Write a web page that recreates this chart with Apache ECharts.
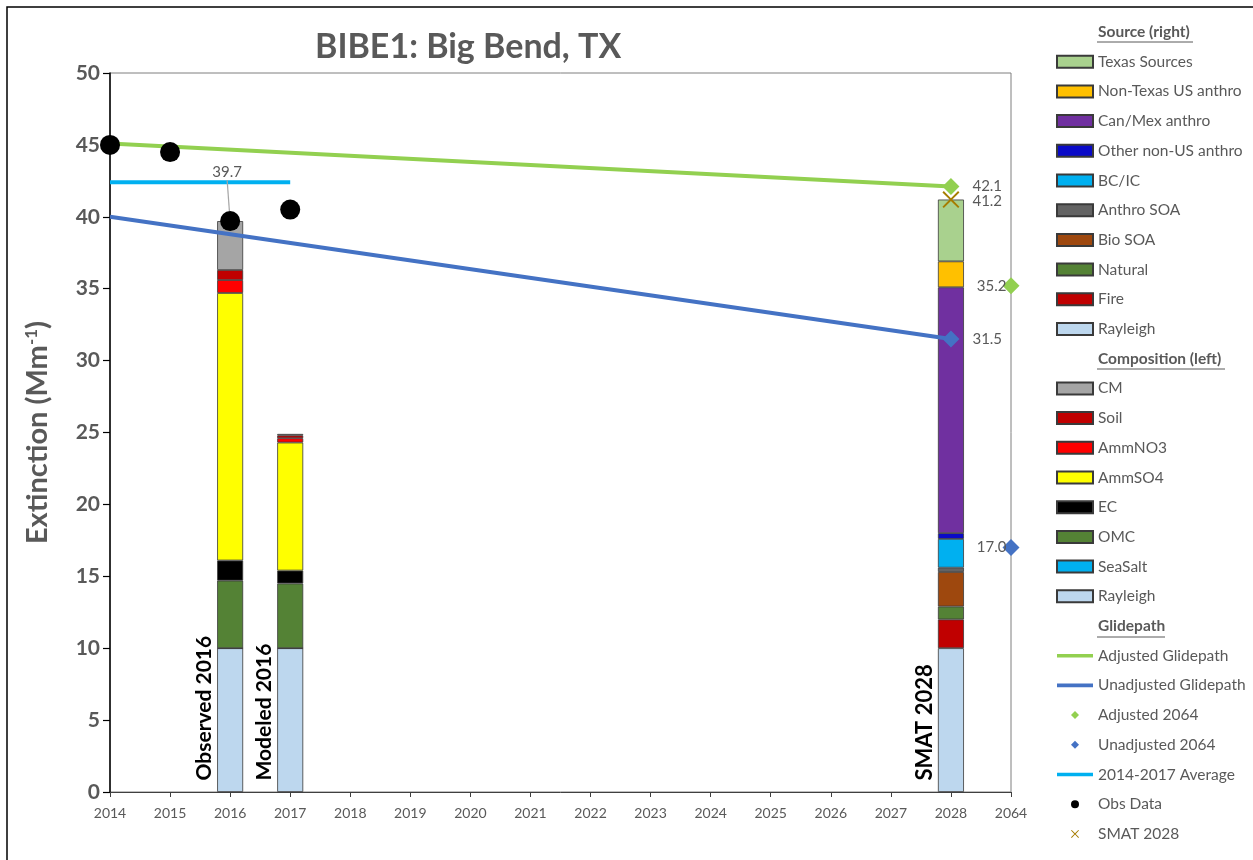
<!DOCTYPE html>
<html>
<head>
<meta charset="utf-8">
<script src="https://cdn.jsdelivr.net/npm/echarts@6/dist/echarts.min.js"></script>
<style>html,body{margin:0;padding:0;background:#fff}#c{width:1253px;height:860px}</style>
</head>
<body>
<div id="c"></div>
<script>
// ---- Data ----
const years = ['2014','2015','2016','2017','2018','2019','2020','2021','2022','2023','2024','2025','2026','2027','2028','2064'];
const yTicks = [0,5,10,15,20,25,30,35,40,45,50];

// Composition (left) bars
const compCats = ['2016','2017'];
const compBarLabels = ['Observed 2016','Modeled 2016'];
const compRayleigh = [10.0, 10.0];
const compSeaSalt = [0.0, 0.0];
const compOMC = [4.7, 4.5];
const compEC = [1.4, 0.9];
const compAmmSO4 = [18.6, 8.9];
const compAmmNO3 = [0.9, 0.3];
const compSoil = [0.7, 0.2];
const compCM = [3.4, 0.1];

// Source (right) bar
const srcCats = ['2028'];
const srcBarLabels = ['SMAT 2028'];
const srcRayleigh = [10.0];
const srcFire = [2.0];
const srcNatural = [0.9];
const srcBioSOA = [2.4];
const srcAnthroSOA = [0.3];
const srcBCIC = [2.0];
const srcOtherNonUS = [0.4];
const srcCanMex = [17.1];
const srcNonTexas = [1.8];
const srcTexas = [4.3];

// Glidepath & points
const obsYears = ['2014','2015','2016','2017'];
const obsValues = [45.0, 44.5, 39.7, 40.5];
const avgYears = ['2014','2017'];
const avgValues = [42.4, 42.4];
const adjGlideYears = ['2014','2028'];
const adjGlideValues = [45.1, 42.1];
const unadjGlideYears = ['2014','2028'];
const unadjGlideValues = [40.0, 31.5];
const adjPtYears = ['2028','2064'];
const adjPtValues = [42.1, 35.2];
const unadjPtYears = ['2028','2064'];
const unadjPtValues = [31.5, 17.0];
const smatYears = ['2028'];
const smatValues = [41.2];

// ---- Helpers ----
function fill(cats, vals) {
  const arr = years.map(() => null);
  cats.forEach((c, i) => { arr[years.indexOf(c)] = vals[i]; });
  return arr;
}
const FONT = 'Lato';
const GREY = '#595959';
function bar(name, color, cats, vals, labels, labelSize) {
  const arr = fill(cats, vals).map((v, i) => {
    if (v == null) return null;
    if (labels) {
      const k = cats.indexOf(years[i]);
      return {
        value: v,
        label: {
          show: true, formatter: labels[k], rotate: 90, position: [-2, '92%'],
          align: 'left', verticalAlign: 'bottom',
          fontFamily: FONT, fontWeight: 'bold', fontSize: labelSize, color: '#000'
        }
      };
    }
    return v;
  });
  return {
    name, type: 'bar', stack: 'total', barWidth: 26, data: arr,
    itemStyle: { color, borderColor: '#3a3a3a', borderWidth: 0.8 },
    emphasis: { disabled: true }, z: 2
  };
}
const xPath = 'path://M0,0.8L0.8,0L5,4.2L9.2,0L10,0.8L5.8,5L10,9.2L9.2,10L5,5.8L0.8,10L0,9.2L4.2,5Z';
const pad = 'M0,0L0.01,0.01ZM12,12L11.99,11.99Z';
const legDiamond = 'path://' + pad + 'M6,2L10,6L6,10L2,6Z';
const legCircle = 'path://' + pad + 'M2,6A4,4 0 1,1 10,6A4,4 0 1,1 2,6Z';
const legX = 'path://' + pad + 'M2,2.7L2.7,2L6,5.3L9.3,2L10,2.7L6.7,6L10,9.3L9.3,10L6,6.7L2.7,10L2,9.3L5.3,6Z';
const legLine = 'path://M0,0L0.01,0.01ZM36,12L35.99,11.99ZM0,4.2L36,4.2L36,7.8L0,7.8Z';

const labelStyle = { fontFamily: FONT, fontSize: 15, color: GREY };

const series = [
  // composition
  bar('Rayleigh', '#BDD7EE', compCats, compRayleigh, compBarLabels, 21),
  bar('SeaSalt', '#00B0F0', compCats, compSeaSalt),
  bar('OMC', '#548235', compCats, compOMC),
  bar('EC', '#000000', compCats, compEC),
  bar('AmmSO4', '#FFFF00', compCats, compAmmSO4),
  bar('AmmNO3', '#FF0000', compCats, compAmmNO3),
  bar('Soil', '#C00000', compCats, compSoil),
  bar('CM', '#A5A5A5', compCats, compCM),
  // source
  bar('Rayleigh ', '#BDD7EE', srcCats, srcRayleigh, srcBarLabels, 22),
  bar('Fire', '#C00000', srcCats, srcFire),
  bar('Natural', '#548235', srcCats, srcNatural),
  bar('Bio SOA', '#9E480E', srcCats, srcBioSOA),
  bar('Anthro SOA', '#636363', srcCats, srcAnthroSOA),
  bar('BC/IC', '#00B0F0', srcCats, srcBCIC),
  bar('Other non-US anthro', '#0A0AC8', srcCats, srcOtherNonUS),
  bar('Can/Mex anthro', '#7030A0', srcCats, srcCanMex),
  bar('Non-Texas US anthro', '#FFC000', srcCats, srcNonTexas),
  bar('Texas Sources', '#A9D18E', srcCats, srcTexas),
  // header dummies
  { name: 'Source (right)', type: 'line', data: [] },
  { name: 'Composition (left)', type: 'line', data: [] },
  { name: 'Glidepath', type: 'line', data: [] },
  // lines
  { name: '2014-2017 Average', type: 'line', data: fill(avgYears, avgValues), connectNulls: true,
    symbol: 'none', lineStyle: { color: '#00B0F0', width: 4 }, itemStyle: { color: '#00B0F0' }, z: 5 },
  { name: 'Unadjusted Glidepath', type: 'line', data: fill(unadjGlideYears, unadjGlideValues), connectNulls: true,
    symbol: 'none', lineStyle: { color: '#4472C4', width: 4 }, itemStyle: { color: '#4472C4' }, z: 5 },
  { name: 'Adjusted Glidepath', type: 'line', data: fill(adjGlideYears, adjGlideValues), connectNulls: true,
    symbol: 'none', lineStyle: { color: '#92D050', width: 4 }, itemStyle: { color: '#92D050' }, z: 5 },
  { name: 'Obs Data', type: 'scatter', symbol: 'circle', symbolSize: 20, itemStyle: { color: '#000', opacity: 1 }, z: 6,
    data: fill(obsYears, obsValues).map((v, i) => v == null ? null : (years[i] === '2016' ? {
      value: v,
      label: Object.assign({ show: true, position: 'top', formatter: (p) => p.value.toFixed(1) }, labelStyle)
    } : v)),
    labelLayout: () => ({ dy: -26, dx: -3 }),
    labelLine: { show: true, lineStyle: { color: '#A6A6A6', width: 1.2 } } },
  { name: 'Unadjusted 2064', type: 'scatter', symbol: 'diamond', symbolSize: 17, itemStyle: { color: '#4472C4', opacity: 1 }, z: 6,
    data: fill(unadjPtYears, unadjPtValues),
    label: Object.assign({ show: true, position: 'right', distance: 13, formatter: (p) => p.value.toFixed(1) }, labelStyle) },
  { name: 'Adjusted 2064', type: 'scatter', symbol: 'diamond', symbolSize: 17, itemStyle: { color: '#92D050', opacity: 1 }, z: 6,
    data: fill(adjPtYears, adjPtValues),
    label: Object.assign({ show: true, position: 'right', distance: 13, formatter: (p) => p.value.toFixed(1) }, labelStyle) },
  { name: 'SMAT 2028', type: 'scatter', symbol: xPath, symbolSize: 17, itemStyle: { color: '#A67C00', opacity: 1 }, z: 7,
    data: fill(smatYears, smatValues),
    label: Object.assign({ show: true, position: 'right', distance: 13, offset: [0, 2], formatter: (p) => p.value.toFixed(1) }, labelStyle) }
];
// 2064 labels to the left of their markers
series.forEach(s => {
  if (s.name === 'Adjusted 2064' || s.name === 'Unadjusted 2064') {
    s.data = s.data.map((v, i) => v == null ? null : (years[i] === '2064' ? {
      value: v, label: { position: 'left', distance: -4 }
    } : v));
  }
});

const headers = ['Source (right)', 'Composition (left)', 'Glidepath'];
const legendOrder = ['Source (right)', 'Texas Sources', 'Non-Texas US anthro', 'Can/Mex anthro', 'Other non-US anthro',
  'BC/IC', 'Anthro SOA', 'Bio SOA', 'Natural', 'Fire', 'Rayleigh ',
  'Composition (left)', 'CM', 'Soil', 'AmmNO3', 'AmmSO4', 'EC', 'OMC', 'SeaSalt', 'Rayleigh',
  'Glidepath', 'Adjusted Glidepath', 'Unadjusted Glidepath', 'Adjusted 2064', 'Unadjusted 2064',
  '2014-2017 Average', 'Obs Data', 'SMAT 2028'];
const legendData = legendOrder.map(n => {
  if (headers.includes(n)) return { name: n, icon: 'none' };
  if (n === 'Adjusted 2064' || n === 'Unadjusted 2064') return { name: n, icon: legDiamond };
  if (n === 'Obs Data') return { name: n, icon: legCircle };
  if (n === 'SMAT 2028') return { name: n, icon: legX };
  const s = series.find(x => x.name === n);
  if (s && s.type === 'bar') return { name: n, icon: 'rect' };
  return { name: n, icon: legLine };
});

const chart = echarts.init(document.getElementById('c'), null, { renderer: 'canvas' });
chart.setOption({
  animation: false,
  backgroundColor: '#fff',
  title: {
    text: 'BIBE1: Big Bend, TX', left: 310, top: 25,
    textStyle: { fontFamily: FONT, fontWeight: 'bold', fontSize: 34, color: GREY }
  },
  grid: { left: 110, right: 242, top: 73, bottom: 68, show: true, borderColor: '#7F7F7F', borderWidth: 1 },
  legend: {
    orient: 'vertical', left: 1056, top: 24, padding: 0, itemWidth: 36, itemHeight: 12, itemGap: 13.7,
    selectedMode: false, data: legendData,
    textStyle: { fontFamily: FONT, fontSize: 15.5, color: GREY, lineHeight: 16,
      rich: { h: { fontFamily: FONT, fontSize: 15.5, fontWeight: 'bold', color: GREY, lineHeight: 16 } } },
    formatter: (n) => headers.includes(n) ? '{h|' + n + '}' : n.trim()
  },
  xAxis: {
    type: 'category', data: years, boundaryGap: false,
    axisLine: { lineStyle: { color: '#404040', width: 1 } },
    axisTick: { show: true, alignWithLabel: true, length: 5, lineStyle: { color: '#404040' } },
    axisLabel: { fontFamily: FONT, fontSize: 14, color: GREY, margin: 14 }
  },
  yAxis: {
    type: 'value', min: yTicks[0], max: yTicks[yTicks.length - 1], interval: 5,
    name: '{a|Extinction (Mm}{s|-1}{a|)}', nameLocation: 'middle', nameRotate: 90, nameGap: 58,
    nameTextStyle: {
      rich: {
        a: { fontFamily: FONT, fontWeight: 'bold', fontSize: 29, color: GREY },
        s: { fontFamily: FONT, fontWeight: 'bold', fontSize: 17, color: GREY, verticalAlign: 'top', padding: [0, 0, 10, 0] }
      }
    },
    axisLine: { show: true, lineStyle: { color: '#000', width: 1.5 } },
    axisTick: { show: true, length: 7, lineStyle: { color: '#000', width: 1.2 } },
    axisLabel: { fontFamily: FONT, fontWeight: 'bold', fontSize: 21, color: GREY, margin: 10 },
    splitLine: { show: false }
  },
  graphic: [
    { type: 'rect', shape: { x: 7, y: 7, width: 1300, height: 900 }, style: { fill: 'none', stroke: '#000', lineWidth: 1.5 }, silent: true },
    { type: 'line', shape: { x1: 1097, y1: 42, x2: 1193, y2: 42 }, style: { stroke: GREY, lineWidth: 1 } },
    { type: 'line', shape: { x1: 1097, y1: 369, x2: 1225, y2: 369 }, style: { stroke: GREY, lineWidth: 1 } },
    { type: 'line', shape: { x1: 1097, y1: 637, x2: 1165, y2: 637 }, style: { stroke: GREY, lineWidth: 1 } }
  ],
  series
});
</script>
</body>
</html>
